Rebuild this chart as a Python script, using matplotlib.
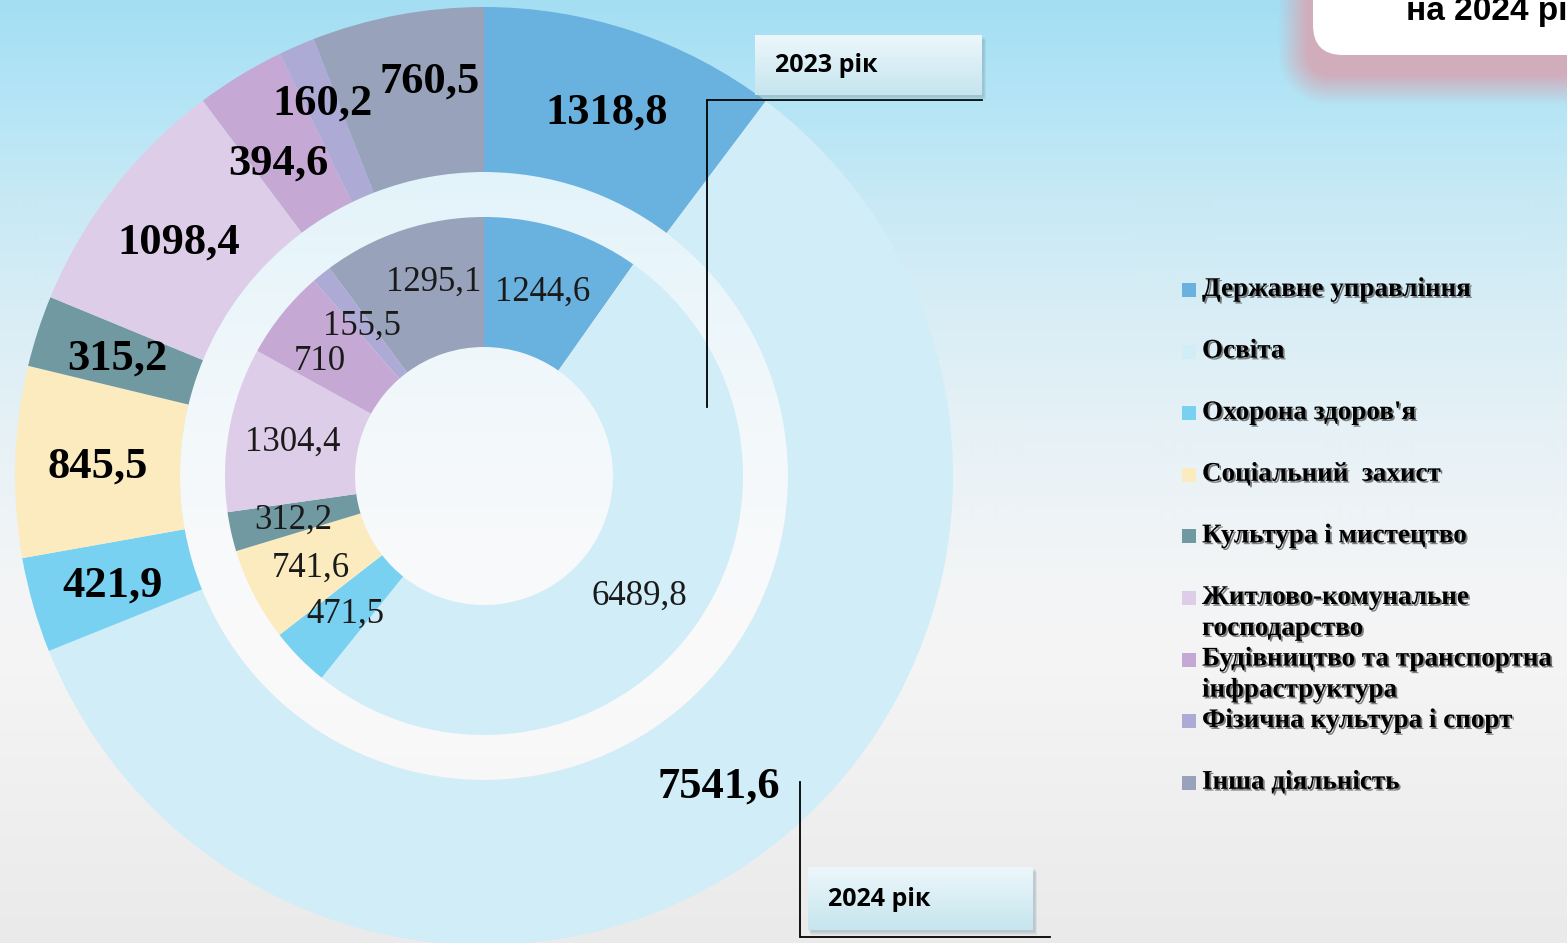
import numpy as np
import matplotlib
matplotlib.use("Agg")
import matplotlib.pyplot as plt
from matplotlib.patches import Rectangle, FancyBboxPatch, Circle
from matplotlib.colors import to_rgb
import matplotlib.patheffects as pe

# ---------------- data ----------------
categories = [
    "Державне управління",
    "Освіта",
    "Охорона здоров'я",
    "Соціальний  захист",
    "Культура і мистецтво",
    "Житлово-комунальне\nгосподарство",
    "Будівництво та транспортна\nінфраструктура",
    "Фізична культура і спорт",
    "Інша діяльність",
]
values_2024 = [1318.8, 7541.6, 421.9, 845.5, 315.2, 1098.4, 394.6, 160.2, 760.5]
values_2023 = [1244.6, 6489.8, 471.5, 741.6, 312.2, 1304.4, 710, 155.5, 1295.1]
year_2023 = "2023 рік"
year_2024 = "2024 рік"
title_fragment = "на 2024 рік"

# ---------------- style ----------------
colors = ["#69b1de", "#d1edf8", "#79d1f1", "#fbebbf", "#7099a1",
          "#ddcde8", "#c5a9d4", "#aeaad6", "#98a3bb"]

W, H = 1567, 943


def Y(py):
    return H - py


def fmt(v):
    return f"{v:g}".replace(".", ",")


fig = plt.figure(figsize=(W / 100, H / 100), dpi=100)
ax = fig.add_axes([0, 0, 1, 1])

# background gradient
stops = [(0, "#a4def3"), (100, "#b4e5f6"), (200, "#c8e9f5"), (300, "#d7edf5"),
         (420, "#e5f1f6"), (550, "#f1f4f6"), (650, "#f5f5f5"), (943, "#eaeaea")]
rows = np.arange(H)
sp = np.array([s[0] for s in stops], float)
sc = np.array([to_rgb(s[1]) for s in stops])
grad = np.stack([np.interp(rows, sp, sc[:, k]) for k in range(3)], axis=1)
img = np.repeat(grad[:, None, :], 4, axis=1)
ax.imshow(img, extent=(0, W, 0, H), aspect="auto", zorder=0, interpolation="bilinear")

# top-right box with pink blurred shadow
gx = np.arange(1200, W + 1)
gy = np.arange(0, 160)
XX, YY = np.meshgrid(gx, gy)
rx0, rx1, ry0, ry1, rr = 1294, 1800, -80, 88, 34
qx = np.maximum(np.maximum(rx0 + rr - XX, XX - (rx1 - rr)), 0)
qy = np.maximum(np.maximum(ry0 + rr - YY, YY - (ry1 - rr)), 0)
d = np.hypot(qx, qy) - rr
alpha = np.clip(0.55 - d / 30.0, 0, 1)
sh = np.zeros(XX.shape + (4,))
sh[..., :3] = to_rgb("#d1adbb")
sh[..., 3] = alpha
ax.imshow(sh, extent=(1200, W + 1, Y(160), Y(0)), aspect="auto", zorder=1,
          interpolation="bilinear")
ax.add_patch(FancyBboxPatch((1313, Y(55)), 500, 200,
                            boxstyle="round,pad=0,rounding_size=30",
                            fc="white", ec="none", zorder=2))
ax.text(1406, Y(20), title_fragment, fontsize=24, fontweight="bold",
        family="Liberation Sans", va="baseline", ha="left", zorder=3)

# donut geometry
cx, cy = 484, Y(476)
R_out, R_out_in = 469, 304
R_in, R_in_in = 259, 129

ax.add_patch(Circle((cx, cy), R_out_in, fc="white", ec="none", alpha=0.52, zorder=1))

w_out, _ = ax.pie(values_2024, radius=R_out, center=(cx, cy), startangle=90,
                  counterclock=False, colors=colors, frame=True,
                  wedgeprops=dict(width=R_out - R_out_in, edgecolor="none", linewidth=0))
w_in, _ = ax.pie(values_2023, radius=R_in, center=(cx, cy), startangle=90,
                 counterclock=False, colors=colors, frame=True,
                 wedgeprops=dict(width=R_in - R_in_in, edgecolor="none", linewidth=0))
for w in list(w_out) + list(w_in):
    w.set_zorder(2)

# labels
nudge_out = [(0, 3), (0, 4), (0, 3), (0, 2), (0, 2), (0, 3), (-5, 17), (-7, -19), (17, -15)]
nudge_in = [(0, 2), (0, 3), (0, 2), (0, 3), (0, 2), (0, 2), (-12, 8), (0, 2), (11, -9)]

for w, v, (dx, dy) in zip(w_out, values_2024, nudge_out):
    a = np.deg2rad((w.theta1 + w.theta2) / 2)
    x = cx + 386 * np.cos(a) + dx
    y = cy + 386 * np.sin(a) - dy
    ax.text(x, y, fmt(v), fontsize=32, fontweight="bold", family="Liberation Serif",
            ha="center", va="center", color="black", zorder=5)

for w, v, (dx, dy) in zip(w_in, values_2023, nudge_in):
    a = np.deg2rad((w.theta1 + w.theta2) / 2)
    x = cx + 195 * np.cos(a) + dx
    y = cy + 195 * np.sin(a) - dy
    ax.text(x, y, fmt(v), fontsize=25, family="Liberation Serif",
            ha="center", va="center", color="#1a1a1a", zorder=5)

# callout lines
ax.plot([707, 707, 982], [Y(407), Y(100), Y(100)], color="black", lw=1.3, zorder=6,
        solid_joinstyle="miter")
ax.plot([800, 800, 1050], [Y(782), Y(937), Y(937)], color="black", lw=1.3, zorder=6,
        solid_joinstyle="miter")


def callout(x0, y0, x1, y1, text):
    for k in range(4):
        ax.add_patch(Rectangle((x0 + 1 + k * 0.5, Y(y1 + 2 + k)), x1 - x0 + 1, y1 - y0,
                               fc="#7f9aa5", ec="none", alpha=0.12, zorder=6))
    g = np.linspace(0, 1, 64)[:, None]
    top, bot = np.array(to_rgb("#ecf7fb")), np.array(to_rgb("#c6e5ee"))
    gim = top[None, None, :] * (1 - g[..., None]) + bot[None, None, :] * g[..., None]
    gim = np.repeat(gim, 2, axis=1)
    ax.imshow(gim, extent=(x0, x1, Y(y1), Y(y0)), aspect="auto", zorder=7,
              interpolation="bilinear")
    ax.text(x0 + 20, Y((y0 + y1) / 2 + 1), text, fontsize=18, fontweight="bold",
            family="Open Sans", ha="left", va="center", zorder=8)


callout(755, 35, 982, 95, year_2023)
callout(808, 867, 1033, 930, year_2024)

# legend
for i, (cat, col) in enumerate(zip(categories, colors)):
    yc = 290 + i * 61.6
    ax.add_patch(Rectangle((1182, Y(yc + 7)), 14, 14, fc=col, ec="none", zorder=5))
    ax.text(1202, Y(yc - 13), cat, fontsize=19.5, fontweight="bold",
            family="Liberation Serif", ha="left", va="top", linespacing=1.32,
            color="black", zorder=5,
            path_effects=[pe.withSimplePatchShadow(offset=(1.3, -1.3),
                                                   shadow_rgbFace="#333333", alpha=0.6)])

ax.set_xlim(0, W)
ax.set_ylim(0, H)
ax.set_axis_off()
fig.savefig("out.png", dpi=100)
